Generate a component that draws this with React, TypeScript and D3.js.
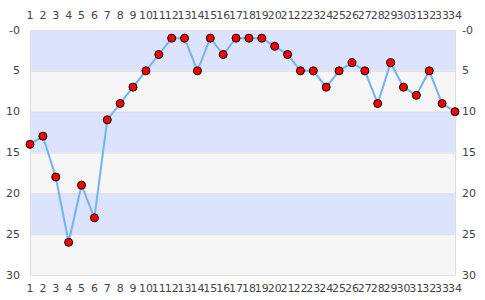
import React from "react";
import * as d3 from "d3";

const categories: number[] = Array.from({ length: 34 }, (_, i) => i + 1);
const values: number[] = [14, 13, 18, 26, 19, 23, 11, 9, 7, 5, 3, 1, 1, 5, 1, 3, 1, 1, 1, 2, 3, 5, 5, 7, 5, 4, 5, 9, 4, 7, 8, 5, 9, 10];
const yTicks: number[] = [0, 5, 10, 15, 20, 25, 30];
const bands: [number, number][] = [[0, 5], [5, 10], [10, 15], [15, 20], [20, 25], [25, 30]];

export default function App() {
  const W = 485, H = 300;
  const left = 30, right = 455, top = 30, bottom = 275;
  const x = d3.scaleLinear().domain([1, 34]).range([left, right]);
  const y = d3.scaleLinear().domain([0, 30]).range([top, bottom]);
  const line = d3.line<number>().x((_, i) => x(categories[i])).y((d) => y(d));
  const font = "DejaVu Sans, sans-serif";
  const fmt = (t: number) => (t === 0 ? "-0" : String(t));
  return (
    <svg width={W} height={H} style={{ position: "absolute", left: 0, top: 0 }}>
      {bands.map((b, i) => (
        <rect key={i} x={left} y={y(b[0])} width={right - left} height={y(b[1]) - y(b[0])} fill={i % 2 === 0 ? "#dce3fd" : "#f6f6f6"} />
      ))}
      {yTicks.map((t) => (
        <line key={t} x1={left} x2={right} y1={y(t) + 0.5} y2={y(t) + 0.5} stroke="#dddddd" strokeWidth={1} />
      ))}
      <line x1={left + 0.5} x2={left + 0.5} y1={top} y2={bottom} stroke="#dddddd" />
      <line x1={right + 0.5} x2={right + 0.5} y1={top} y2={bottom} stroke="#dddddd" />
      <path d={line(values) || ""} fill="none" stroke="#72b2f2" strokeWidth={2} />
      {values.map((v, i) => (
        <circle key={i} cx={x(categories[i])} cy={y(v)} r={4} fill="#ff0000" stroke="#000" strokeWidth={1} />
      ))}
      {yTicks.map((t) => (
        <g key={"l" + t} fontFamily={font} fontSize={11} fill="#444">
          <text x={20} y={y(t)} textAnchor="end" dominantBaseline="central">{fmt(t)}</text>
          <text x={462} y={y(t)} textAnchor="start" dominantBaseline="central">{fmt(t)}</text>
        </g>
      ))}
      {categories.map((c) => (
        <g key={"c" + c} fontFamily={font} fontSize={11} fill="#444">
          <text x={x(c)} y={15} textAnchor="middle" dominantBaseline="central">{c}</text>
          <text x={x(c)} y={288} textAnchor="middle" dominantBaseline="central">{c}</text>
        </g>
      ))}
    </svg>
  );
}
